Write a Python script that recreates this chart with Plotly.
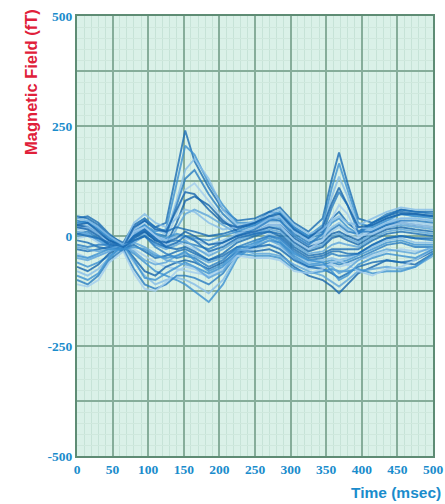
import plotly.graph_objects as go

time_ms = [0, 15, 30, 45, 65, 80, 95, 110, 125, 140, 152, 165, 185, 205, 225,
           250, 270, 285, 305, 325, 345, 358, 368, 380, 395, 415, 435, 455, 475, 500]

s1 = [40, 45, 30, 5, -20, 15, 35, 20, 30, 150, 240, 170, 110, 60, 35, 40, 55, 50, 20, 0, 10, 40, 55, 30, 10, 30, 45, 55, 50, 45]
s2 = [30, 35, 20, 0, -25, 10, 25, 10, 15, 120, 205, 185, 120, 70, 30, 30, 45, 40, 15, -5, 5, 30, 40, 20, 5, 25, 40, 50, 45, 40]
s3 = [20, 25, 10, -10, -20, 20, 40, 15, 5, 80, 150, 175, 130, 60, 25, 20, 35, 45, 10, -10, 0, 20, 30, 15, 0, 20, 35, 40, 40, 35]
s4 = [35, 30, 15, -5, -30, 5, 20, 5, 0, 70, 130, 150, 95, 50, 20, 25, 40, 35, 5, -15, -5, 15, 25, 10, 5, 30, 50, 60, 55, 50]
s5 = [10, 15, 0, -15, -25, 15, 30, 0, -10, 50, 105, 120, 80, 40, 15, 15, 30, 30, 0, -20, -10, 10, 20, 5, -5, 15, 30, 35, 30, 25]
s6 = [25, 20, 5, -10, -20, 0, 10, -10, -20, 30, 80, 90, 70, 35, 10, 10, 25, 25, -5, -25, -15, 5, 10, 0, -10, 10, 25, 30, 25, 20]
s7 = [0, 5, -10, -20, -30, -5, 5, -20, -25, 15, 50, 60, 45, 25, 5, 5, 20, 20, -10, -30, -20, 0, 5, -5, -15, 5, 20, 25, 20, 15]
s8 = [45, 40, 25, 0, -15, 25, 40, 20, 10, 20, 15, 10, 0, 5, 15, 30, 55, 65, 30, 10, 40, 130, 190, 120, 40, 30, 45, 60, 55, 55]
s9 = [30, 30, 15, -5, -20, 10, 25, 5, -5, 5, 0, -5, -10, 0, 10, 25, 45, 55, 20, 0, 25, 110, 165, 105, 30, 20, 35, 50, 45, 45]
s10 = [15, 20, 5, -15, -25, 5, 20, 0, -10, 0, -5, -10, -20, -10, 5, 20, 40, 45, 10, -10, 15, 90, 135, 90, 20, 15, 30, 40, 40, 35]
s11 = [5, 10, -5, -20, -30, 0, 15, -5, -15, -10, -15, -20, -30, -15, 0, 15, 35, 35, 0, -20, 5, 65, 100, 70, 10, 10, 25, 35, 35, 30]
s12 = [-5, 0, -15, -25, -25, 10, 20, 0, -20, -15, -20, -30, -40, -20, -5, 10, 25, 25, -10, -30, -10, 40, 70, 50, 0, 5, 20, 30, 25, 20]
s13 = [20, 15, 0, -20, -25, -5, 10, -10, -15, -5, 10, 0, -20, -15, 0, 10, 20, 15, -15, -35, -25, -5, 0, -10, -20, 0, 15, 20, 15, 10]
s14 = [10, 5, -10, -25, -30, -15, 0, -20, -30, -20, -10, -25, -45, -30, -10, 5, 15, 10, -20, -40, -35, -20, -15, -20, -25, -5, 10, 15, 10, 5]
s15 = [-10, -15, -25, -30, -25, 0, 15, -5, -25, -30, -25, -35, -55, -40, -15, 0, 10, 5, -25, -45, -40, -30, -30, -30, -30, -10, 5, 10, 5, 0]
s16 = [-60, -70, -60, -45, -25, -40, -60, -80, -90, -100, -110, -125, -150, -110, -50, -20, 0, -10, -45, -65, -60, -55, -60, -55, -45, -30, -15, -10, -20, -20]
s17 = [-80, -90, -75, -50, -25, -60, -90, -110, -100, -95, -100, -110, -130, -100, -45, -15, 5, -5, -40, -60, -55, -50, -55, -50, -40, -25, -10, -5, -15, -15]
s18 = [-100, -110, -90, -55, -30, -75, -110, -120, -110, -90, -90, -95, -110, -85, -40, -25, -10, -15, -50, -70, -65, -60, -65, -60, -50, -35, -20, -15, -25, -25]
s19 = [-40, -50, -45, -35, -25, -30, -45, -60, -70, -75, -80, -85, -90, -70, -35, -30, -20, -25, -55, -75, -70, -65, -70, -65, -55, -45, -35, -30, -35, -30]
s20 = [-70, -80, -65, -40, -20, -50, -80, -90, -70, -60, -55, -60, -75, -60, -35, -35, -30, -40, -70, -90, -100, -115, -130, -110, -85, -70, -55, -60, -65, -40]
s21 = [-50, -55, -45, -35, -25, -35, -55, -65, -60, -45, -40, -45, -60, -50, -30, -40, -40, -45, -65, -80, -90, -105, -115, -100, -80, -75, -70, -75, -70, -45]
s22 = [-30, -35, -30, -25, -30, -20, -35, -50, -45, -35, -30, -40, -55, -45, -25, -25, -20, -30, -55, -70, -75, -85, -95, -85, -70, -60, -55, -60, -55, -35]
s23 = [-90, -100, -85, -50, -20, -55, -95, -100, -85, -70, -60, -70, -85, -70, -40, -45, -45, -50, -75, -85, -80, -75, -80, -80, -75, -85, -80, -80, -70, -40]
s24 = [40, 35, 20, 0, -20, 30, 50, 30, 20, 40, 60, 55, 30, 15, 20, 35, 50, 60, 25, 5, 15, 35, 45, 30, 25, 40, 55, 65, 60, 60]
s25 = [-20, -25, -20, -20, -35, -10, 0, -25, -40, -50, -45, -50, -70, -55, -25, -10, 0, -5, -35, -55, -50, -40, -45, -45, -40, -20, -5, 0, -5, -10]
s26 = [-110, -115, -100, -60, -35, -85, -120, -125, -105, -80, -70, -75, -95, -75, -45, -50, -50, -55, -80, -85, -75, -60, -55, -65, -80, -90, -75, -70, -55, -30]
s27 = [25, 30, 10, -10, -25, 20, 35, 15, 10, 60, 100, 95, 60, 30, 20, 30, 45, 50, 15, -5, 20, 75, 110, 70, 20, 25, 40, 50, 50, 45]
s28 = [-25, -30, -35, -30, -20, -15, -25, -40, -55, -60, -65, -70, -95, -80, -35, -20, -10, -20, -50, -65, -65, -70, -85, -75, -55, -40, -30, -35, -40, -25]
s29 = [5, 0, -5, -15, -25, -10, 0, -15, -25, -15, 0, -10, -35, -25, -5, 5, 10, 0, -30, -50, -45, -35, -35, -40, -40, -20, -5, 0, -5, -5]
s30 = [-45, -50, -40, -30, -30, -25, -30, -45, -50, -45, -35, -55, -80, -65, -30, -15, -5, -15, -40, -55, -60, -80, -100, -90, -65, -50, -40, -45, -50, -30]

series = [s1, s2, s3, s4, s5, s6, s7, s8, s9, s10, s11, s12, s13, s14, s15,
          s16, s17, s18, s19, s20, s21, s22, s23, s24, s25, s26, s27, s28, s29, s30]

palette = ["#1b6db5", "#3d92d2", "#86bde8", "#2a7dc3", "#a3cdee", "#1765ad", "#5ea5dc"]

y_grid = [-500, -375, -250, -125, 0, 125, 250, 375, 500]
y_labels = ["-500", "", "-250", "", "0", "", "250", "", "500"]
x_ticks = [0, 50, 100, 150, 200, 250, 300, 350, 400, 450, 500]
x_labels = ["0", "50", "100", "150", "200", "250", "300", "350", "400", "450", "500"]

fig = go.Figure()
for i, s in enumerate(series):
    fig.add_trace(go.Scatter(
        x=time_ms, y=s, mode="lines",
        line=dict(color=palette[i % len(palette)], width=1.9),
        opacity=0.8, showlegend=False, hoverinfo="skip"))

tick_font = dict(family="Liberation Serif", size=13.5, color="#1a8ccc", weight="bold")

fig.update_layout(
    width=445, height=504,
    margin=dict(l=77, r=12, t=16, b=48),
    paper_bgcolor="white",
    plot_bgcolor="#daf1e8",
    showlegend=False,
    xaxis=dict(range=[0, 500], tickmode="array", tickvals=x_ticks, ticktext=x_labels,
               tickfont=tick_font, showgrid=True, gridcolor="#86ad9a", gridwidth=1.5,
               minor=dict(dtick=10, showgrid=True, gridcolor="#c6e3d7", gridwidth=1),
               showline=True, linecolor="#5e8c74", linewidth=2, mirror=True,
               zeroline=False, ticks="", automargin=False),
    yaxis=dict(range=[-500, 500], tickmode="array", tickvals=y_grid, ticktext=y_labels,
               tickfont=tick_font, showgrid=True, gridcolor="#86ad9a", gridwidth=1.5,
               minor=dict(dtick=25, showgrid=True, gridcolor="#cfe8dd", gridwidth=1),
               showline=True, linecolor="#5e8c74", linewidth=2, mirror=True,
               zeroline=False, ticks="", automargin=False),
    annotations=[
        dict(text="<b>Magnetic Field (fT)</b>", textangle=-90, xref="paper", yref="paper",
             x=-0.13, y=1.02, xanchor="center", yanchor="top", showarrow=False,
             font=dict(family="Liberation Sans", size=16.5, color="#e0203a")),
        dict(text="<b>Time (msec)</b>", xref="paper", yref="paper",
             x=1.028, y=-0.084, xanchor="right", yanchor="middle", showarrow=False,
             font=dict(family="Liberation Sans", size=15.5, color="#1a8ccc")),
    ],
)

fig.write_html("out.html", config={"displayModeBar": False},
               post_script="document.body.style.margin='0';document.body.style.overflow='hidden';")
